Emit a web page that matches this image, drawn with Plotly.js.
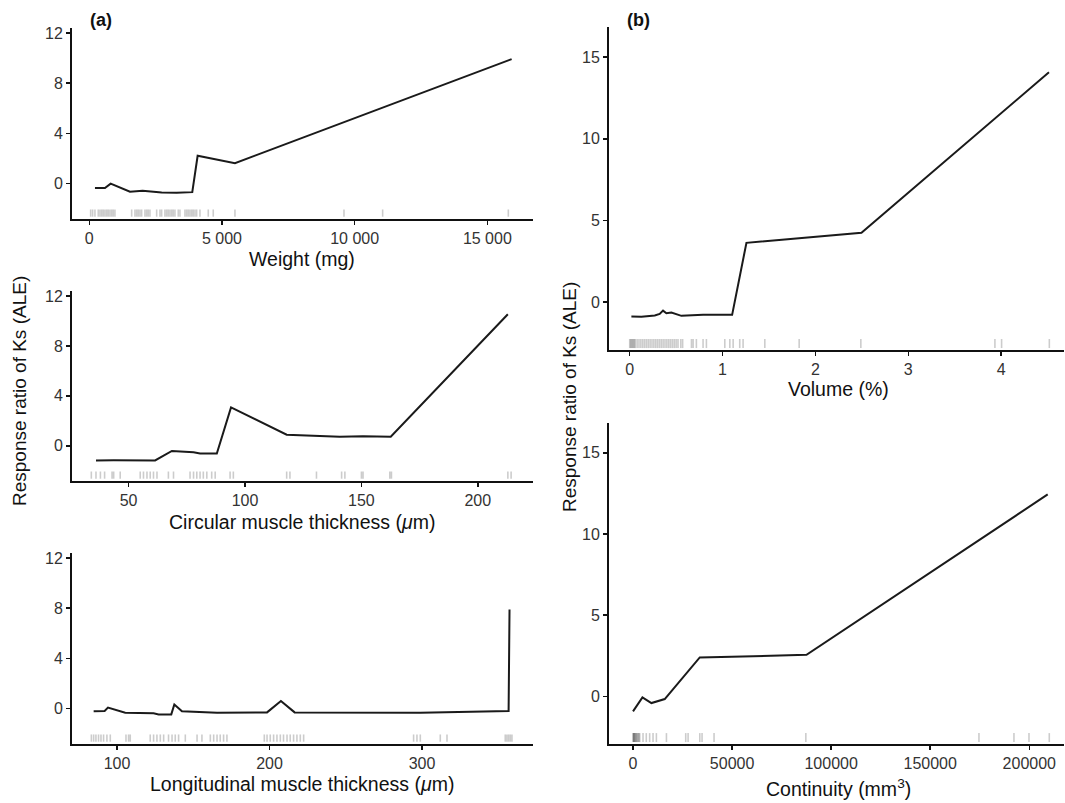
<!DOCTYPE html>
<html><head><meta charset="utf-8">
<script src="https://cdn.plot.ly/plotly-3.0.1.min.js"></script>
<style>html,body{margin:0;padding:0;background:#fff}#chart{width:1065px;height:803px}</style>
</head><body><div id="chart"></div><script>
// ---- Panel (a) top: Weight (mg)
const weightX = [215, 592, 806, 1534, 2011, 2728, 3293, 3882, 4084, 5490, 15915];
const weightY = [-0.35, -0.35, 0.0, -0.65, -0.57, -0.70, -0.73, -0.68, 2.22, 1.63, 9.92];
const weightRug = [53, 128, 215, 339, 403, 467, 528, 592, 656, 716, 780, 844, 904, 968,
  1598, 1722, 1786, 1846, 1910, 1974, 2099, 2163, 2223, 2287, 2540, 2664, 2728, 2852, 2916,
  2977, 3041, 3105, 3165, 3229, 3353, 3418, 3606, 3670, 3731, 3794, 3858, 3918, 3983, 4047,
  4171, 4484, 4672, 5490, 9598, 11055, 15790];
const weightTicks = [0, 5000, 10000, 15000];
const weightTickText = ['0', '5 000', '10 000', '15 000'];

// ---- Panel (a) middle: Circular muscle thickness
const circX = [36.0, 43.6, 61.4, 68.6, 77.9, 80.7, 87.9, 94.0, 117.9, 140.7, 150.7, 162.6, 212.9];
const circY = [-1.17, -1.15, -1.17, -0.41, -0.52, -0.62, -0.62, 3.08, 0.89, 0.73, 0.76, 0.73, 10.54];
const circRug = [34.0, 36.0, 37.9, 39.7, 42.9, 43.6, 46.4, 55.0, 56.4, 57.9, 59.3, 60.7, 62.2,
  67.1, 69.3, 76.4, 77.9, 79.3, 80.7, 82.1, 83.6, 85.7, 87.2, 93.6, 95.0, 117.9, 119.3,
  130.7, 141.5, 142.9, 150.0, 150.7, 162.2, 162.9, 212.9, 214.3];
const circTicks = [50, 100, 150, 200];

// ---- Panel (a) bottom: Longitudinal muscle thickness
const longX = [84.7, 91.9, 94.1, 105.4, 124.0, 127.3, 135.6, 137.6, 142.6, 165.6, 198.4, 207.5, 216.5, 298.9, 356.8, 357.4];
const longY = [-0.21, -0.19, 0.08, -0.32, -0.37, -0.46, -0.46, 0.33, -0.21, -0.32, -0.30, 0.60, -0.30, -0.32, -0.19, 7.9];
const longRug = [83.2, 84.7, 86.2, 87.9, 89.5, 91.2, 93.4, 95.6, 105.9, 107.6, 108.7,
  121.8, 124.0, 126.2, 128.4, 130.6, 133.8, 136.1, 138.2, 140.4, 144.8,
  152.5, 155.7, 161.2, 163.4, 165.6, 167.7, 169.9, 172.1,
  196.6, 198.4, 200.5, 202.7, 204.9, 207.1, 209.2, 211.5, 213.6, 215.8, 218.0, 220.2, 222.4,
  294.5, 296.7, 298.9, 312.0, 316.4, 354.6, 355.7, 356.8, 357.9, 359.0];
const longTicks = [100, 200, 300];

// ---- Panel (b) top: Volume (%)
const volX = [0.018, 0.126, 0.270, 0.323, 0.359, 0.395, 0.449, 0.557, 0.790, 1.103, 1.257, 2.496, 4.515];
const volY = [-0.88, -0.89, -0.82, -0.72, -0.52, -0.68, -0.64, -0.84, -0.78, -0.78, 3.63, 4.24, 14.07];
const volRug = [0.00, 0.01, 0.02, 0.03, 0.04, 0.05, 0.06, 0.08, 0.10, 0.12, 0.14, 0.16, 0.18,
  0.20, 0.22, 0.24, 0.26, 0.28, 0.30, 0.32, 0.34, 0.36, 0.38, 0.40, 0.42, 0.44, 0.46, 0.48,
  0.50, 0.52, 0.55, 0.57, 0.665, 0.683, 0.718, 0.790, 0.826, 1.024, 1.078, 1.114, 1.185,
  1.221, 1.455, 1.825, 2.489, 3.933, 4.005, 4.519];
const volTicks = [0, 1, 2, 3, 4];

// ---- Panel (b) bottom: Continuity (mm3)
const contX = [0, 4750, 9293, 16010, 33687, 87575, 209300];
const contY = [-0.92, -0.06, -0.41, -0.16, 2.40, 2.56, 12.44];
const contRug = [0, 200, 400, 600, 900, 1200, 1500, 1800, 2200, 2600, 3000, 3400,
  5050, 6700, 8400, 10100, 11800, 16870, 26600, 27800, 33690, 34850, 40900,
  87220, 174600, 192270, 199850, 210100];
const contTicks = [0, 50000, 100000, 150000, 200000];

const leftYTicks = [0, 4, 8, 12];
const rightYTicks = [0, 5, 10, 15];

// ---------------- layout helpers ----------------
const W = 1065, H = 803;
const FONT = 'Liberation Sans, Arial, Helvetica, sans-serif';
const px = v => v / W;
const py = v => 1 - v / H;

function axisBase(extra) {
  return Object.assign({
    showline: true, linecolor: '#111', linewidth: 2,
    ticks: 'outside', ticklen: 4, tickwidth: 1.5, tickcolor: '#111',
    showgrid: false, zeroline: false,
    tickfont: {family: FONT, size: 16, color: '#333'},
    fixedrange: true
  }, extra);
}

const panels = [
  {x: weightX, y: weightY, rug: weightRug, xr: [-650, 16720], yr: [-2.82, 12.4],
   xd: [72, 533], yd: [28, 219], xt: weightTicks, xtt: weightTickText, yt: leftYTicks,
   title: 'Weight (mg)', ty: 259, tx: 302, rugLen: [0.012, 0.05]},
  {x: circX, y: circY, rug: circRug, xr: [25.7, 223.7], yr: [-2.82, 12.4],
   xd: [72, 533], yd: [291, 481], xt: circTicks, yt: leftYTicks,
   title: 'Circular muscle thickness (<i>μ</i>m)', ty: 522, tx: 302, rugLen: [0.012, 0.05]},
  {x: longX, y: longY, rug: longRug, xr: [70.5, 372.8], yr: [-2.82, 12.4],
   xd: [72, 533], yd: [553, 744], xt: longTicks, yt: leftYTicks,
   title: 'Longitudinal muscle thickness (<i>μ</i>m)', ty: 784, tx: 302, rugLen: [0.012, 0.05]},
  {x: volX, y: volY, rug: volRug, xr: [-0.223, 4.677], yr: [-2.93, 16.84],
   xd: [609, 1064], yd: [27, 350], xt: volTicks, yt: rightYTicks,
   title: 'Volume (%)', ty: 389, tx: 838, rugLen: [0.006, 0.034]},
  {x: contX, y: contY, rug: contRug, xr: [-12121, 217525], yr: [-2.93, 16.84],
   xd: [609, 1064], yd: [423, 744], xt: contTicks, yt: rightYTicks,
   title: 'Continuity (mm<sup>3</sup>)', ty: 788, tx: 838, rugLen: [0.006, 0.034]}
];

const data = [];
const shapes = [];
const annotations = [];
const layout = {
  width: W, height: H,
  margin: {l: 0, r: 0, t: 0, b: 0},
  paper_bgcolor: '#fff', plot_bgcolor: '#fff',
  showlegend: false,
  font: {family: FONT, color: '#111'}
};

panels.forEach((p, i) => {
  const n = i === 0 ? '' : String(i + 1);
  const xa = 'x' + n, ya = 'y' + n;
  data.push({
    type: 'scatter', mode: 'lines', x: p.x, y: p.y,
    xaxis: xa, yaxis: ya,
    line: {color: '#1a1a1a', width: 2},
    hoverinfo: 'skip'
  });
  layout['xaxis' + n] = axisBase({
    domain: [px(p.xd[0]), px(p.xd[1])], range: p.xr, anchor: ya,
    tickvals: p.xt, ticktext: p.xtt || p.xt.map(String)
  });
  layout['yaxis' + n] = axisBase({
    domain: [py(p.yd[1]), py(p.yd[0])], range: p.yr, anchor: xa,
    tickvals: p.yt, ticktext: p.yt.map(String)
  });
  p.rug.forEach(v => shapes.push({
    type: 'line', xref: xa, yref: ya + ' domain', x0: v, x1: v,
    y0: p.rugLen[0], y1: p.rugLen[1],
    line: {color: 'rgba(0,0,0,0.2)', width: 1.6}, layer: 'above'
  }));
  annotations.push({
    xref: 'paper', yref: 'paper', x: px(p.tx), y: py(p.ty),
    xanchor: 'center', yanchor: 'middle', showarrow: false,
    text: p.title, font: {family: FONT, size: 19.5, color: '#111'}
  });
});

// Panel letters and shared y titles
annotations.push({xref: 'paper', yref: 'paper', x: px(101), y: py(20), xanchor: 'center', yanchor: 'middle',
  showarrow: false, text: '<b>(a)</b>', font: {family: FONT, size: 18, color: '#111'}});
annotations.push({xref: 'paper', yref: 'paper', x: px(638), y: py(20), xanchor: 'center', yanchor: 'middle',
  showarrow: false, text: '<b>(b)</b>', font: {family: FONT, size: 18, color: '#111'}});
annotations.push({xref: 'paper', yref: 'paper', x: px(20), y: py(391), xanchor: 'center', yanchor: 'middle',
  showarrow: false, textangle: -90, text: 'Response ratio of Ks (ALE)', font: {family: FONT, size: 19, color: '#111'}});
annotations.push({xref: 'paper', yref: 'paper', x: px(569), y: py(397), xanchor: 'center', yanchor: 'middle',
  showarrow: false, textangle: -90, text: 'Response ratio of Ks (ALE)', font: {family: FONT, size: 19, color: '#111'}});

layout.shapes = shapes;
layout.annotations = annotations;

Plotly.newPlot('chart', data, layout, {displayModeBar: false, staticPlot: true});
</script></body></html>
